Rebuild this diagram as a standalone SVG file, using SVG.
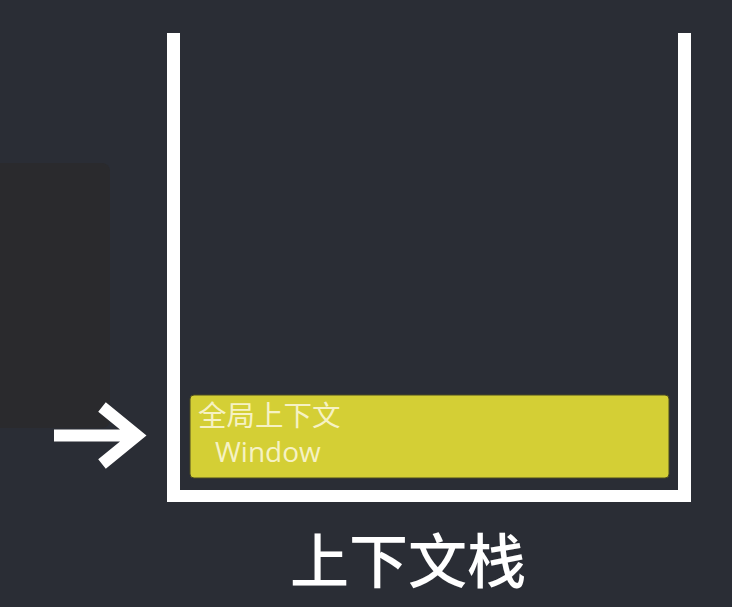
<svg xmlns="http://www.w3.org/2000/svg" width="732" height="607" viewBox="0 0 732 607">
<style>
.wall{fill:#ffffff}
.cjk{font-family:"Noto Sans CJK SC","Noto Sans",sans-serif}
.lbl{fill:#f6f2c4}
</style>
<rect width="732" height="607" fill="#2a2d35"/>
<g id="panel"><rect x="-10" y="163" width="120" height="265" rx="8" fill="#2a2a2d"/></g>
<g id="stack">
<rect class="wall" x="167" y="33" width="13" height="469"/>
<rect class="wall" x="678" y="33" width="13" height="469"/>
<rect class="wall" x="167" y="490" width="524" height="12"/>
</g>
<g id="global-context">
<rect x="190" y="395" width="479" height="83" rx="4" fill="#d4cf35" stroke="#4a4a20" stroke-width="1"/>
<text class="cjk lbl" x="198" y="426" font-size="28.5">全局上下文</text>
<text class="lbl" x="215" y="462" style="font-family:'Open Sans','Noto Sans',sans-serif;font-size:28px">Window</text>
</g>
<g id="connectors">
<path d="M54 435.5H134 M102 407L137 435.5L102 464" fill="none" stroke="#ffffff" stroke-width="12"/>
</g>
<g id="title"><text class="cjk" x="408" y="583" text-anchor="middle" font-size="59" font-weight="500" fill="#ffffff">上下文栈</text></g>
</svg>
